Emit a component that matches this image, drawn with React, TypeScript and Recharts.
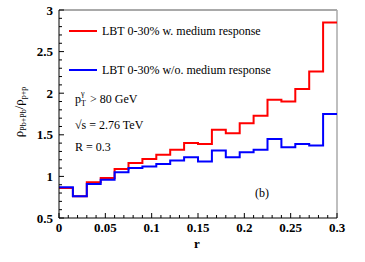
import React from 'react';
import { LineChart, Line, XAxis, YAxis, ReferenceLine } from 'recharts';

const binEdges = [0, 0.015, 0.03, 0.045, 0.06, 0.075, 0.09, 0.105, 0.12, 0.135, 0.15, 0.165, 0.18, 0.195, 0.21, 0.225, 0.24, 0.255, 0.27, 0.285, 0.3];
const withMedium = [0.86, 0.76, 0.93, 0.98, 1.09, 1.16, 1.21, 1.26, 1.32, 1.40, 1.39, 1.56, 1.52, 1.64, 1.73, 1.92, 1.90, 2.05, 2.26, 2.85];
const withoutMedium = [0.87, 0.76, 0.91, 0.96, 1.05, 1.10, 1.12, 1.15, 1.19, 1.23, 1.18, 1.31, 1.23, 1.29, 1.32, 1.45, 1.35, 1.39, 1.37, 1.75];

const xTicks = [0, 0.01, 0.02, 0.03, 0.04, 0.05, 0.06, 0.07, 0.08, 0.09, 0.1, 0.11, 0.12, 0.13, 0.14, 0.15, 0.16, 0.17, 0.18, 0.19, 0.2, 0.21, 0.22, 0.23, 0.24, 0.25, 0.26, 0.27, 0.28, 0.29, 0.3];
const xMajorLabels: Record<string, string> = { '0.00': '0', '0.05': '0.05', '0.10': '0.1', '0.15': '0.15', '0.20': '0.2', '0.25': '0.25', '0.30': '0.3' };
const yTicks = [0.5, 0.6, 0.7, 0.8, 0.9, 1, 1.1, 1.2, 1.3, 1.4, 1.5, 1.6, 1.7, 1.8, 1.9, 2, 2.1, 2.2, 2.3, 2.4, 2.5, 2.6, 2.7, 2.8, 2.9, 3];
const yMajorLabels: Record<string, string> = { '0.5': '0.5', '1.0': '1', '1.5': '1.5', '2.0': '2', '2.5': '2.5', '3.0': '3' };

const data = binEdges.map((r, i) => ({
  r,
  red: withMedium[Math.min(i, withMedium.length - 1)],
  blue: withoutMedium[Math.min(i, withoutMedium.length - 1)],
}));

const FONT = "'Liberation Serif', 'Times New Roman', Times, serif";

const XTick = (props: any) => {
  const { x, y, payload } = props;
  const key = Number(payload.value).toFixed(2);
  const label = xMajorLabels[key];
  const major = label !== undefined;
  return (
    <g>
      <line x1={x} y1={y} x2={x} y2={y - (major ? 5 : 3)} stroke="#000" strokeWidth={1} />
      {major && (
        <text x={x} y={y + 14} textAnchor="middle" fontFamily={FONT} fontWeight="bold" fontSize={13} fill="#000">
          {label}
        </text>
      )}
    </g>
  );
};

const YTick = (props: any) => {
  const { x, y, payload } = props;
  const key = Number(payload.value).toFixed(1);
  const label = yMajorLabels[key];
  const major = label !== undefined;
  return (
    <g>
      <line x1={x} y1={y} x2={x + (major ? 5 : 3)} y2={y} stroke="#000" strokeWidth={1} />
      {major && (
        <text x={x - 6} y={y} dy="0.35em" textAnchor="end" fontFamily={FONT} fontWeight="bold" fontSize={13} fill="#000">
          {label}
        </text>
      )}
    </g>
  );
};

const textStyle: React.CSSProperties = {
  position: 'absolute',
  fontFamily: FONT,
  fontSize: 12,
  color: '#000',
  whiteSpace: 'nowrap',
  lineHeight: 1,
};

export default function App() {
  return (
    <div style={{ position: 'absolute', left: 0, top: 0, width: 365, height: 262, background: '#fff' }}>
      <LineChart width={365} height={262} data={data} margin={{ top: 10, right: 28, bottom: 0, left: 0 }}>
        <XAxis
          dataKey="r"
          type="number"
          domain={[0, 0.3]}
          ticks={xTicks}
          interval={0}
          height={44}
          tickSize={0}
          tickMargin={0}
          tickLine={false}
          axisLine={{ stroke: '#000', strokeWidth: 1 }}
          tick={(p: any) => <XTick {...p} />}
        />
        <YAxis
          type="number"
          domain={[0.5, 3]}
          ticks={yTicks}
          interval={0}
          width={59}
          tickSize={0}
          tickMargin={0}
          tickLine={false}
          axisLine={{ stroke: '#000', strokeWidth: 1 }}
          tick={(p: any) => <YTick {...p} />}
        />
        <ReferenceLine y={3} stroke="#555" strokeWidth={1} />
        <ReferenceLine x={0.3} stroke="#aaa" strokeWidth={1.5} />
        <Line type="stepAfter" dataKey="red" stroke="#ff0000" strokeWidth={2} dot={false} isAnimationActive={false} />
        <Line type="stepAfter" dataKey="blue" stroke="#0000ff" strokeWidth={2} dot={false} isAnimationActive={false} />
      </LineChart>

      <div style={{ position: 'absolute', left: 69, top: 30, width: 28, height: 2, background: '#ff0000' }} />
      <div style={{ ...textStyle, left: 102, top: 25 }}>LBT 0-30% w. medium response</div>
      <div style={{ position: 'absolute', left: 69, top: 69, width: 28, height: 2, background: '#0000ff' }} />
      <div style={{ ...textStyle, left: 102, top: 64 }}>LBT 0-30% w/o. medium response</div>

      <div style={{ ...textStyle, left: 75, top: 93 }}>
        <span>p</span>
        <span style={{ display: 'inline-block', position: 'relative', width: 6, height: 10, verticalAlign: 'top' }}>
          <span style={{ position: 'absolute', left: 0, top: -3, fontSize: 8 }}>γ</span>
          <span style={{ position: 'absolute', left: 0, top: 7, fontSize: 8 }}>T</span>
        </span>
        <span> &gt; 80 GeV</span>
      </div>
      <div style={{ ...textStyle, left: 75, top: 119 }}>√s = 2.76 TeV</div>
      <div style={{ ...textStyle, left: 75, top: 141 }}>R = 0.3</div>
      <div style={{ ...textStyle, left: 255, top: 187 }}>(b)</div>

      <div style={{ ...textStyle, left: 194, top: 237, fontWeight: 'bold', fontSize: 13 }}>r</div>

      <div
        style={{
          ...textStyle,
          fontSize: 13,
          left: 20,
          top: 112,
          transform: 'translate(-50%, -50%) rotate(-90deg)',
        }}
      >
        ρ<sub style={{ fontSize: 8 }}>Pb+Pb</sub>/ρ<sub style={{ fontSize: 8 }}>p+p</sub>
      </div>
    </div>
  );
}
